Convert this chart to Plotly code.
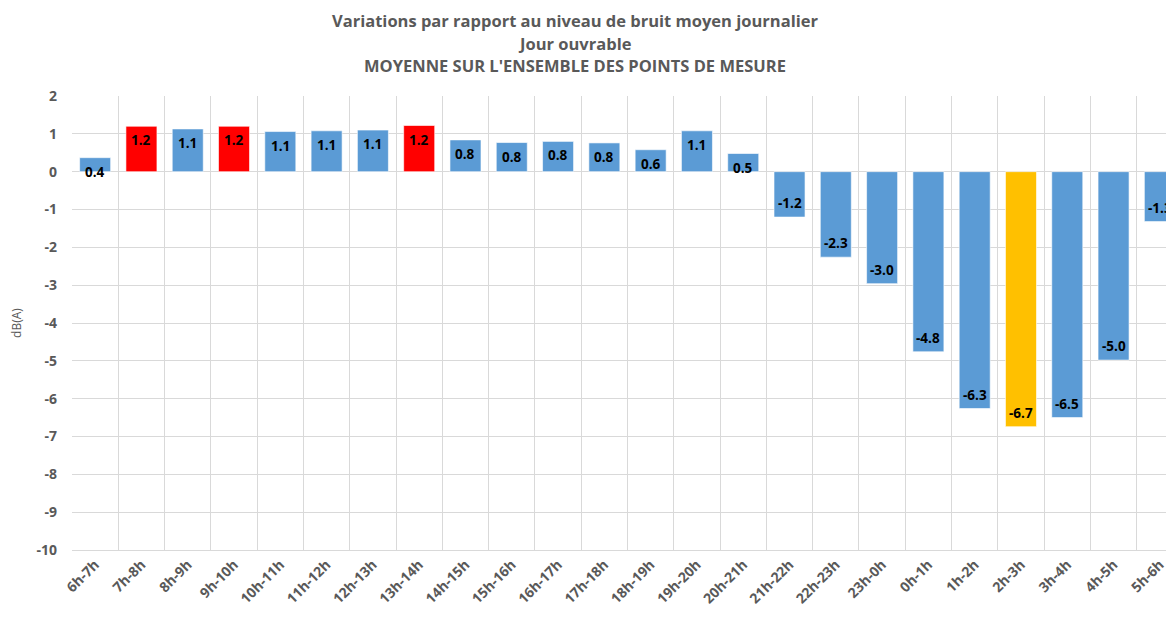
import plotly.graph_objects as go

categories = ["6h-7h", "7h-8h", "8h-9h", "9h-10h", "10h-11h", "11h-12h", "12h-13h", "13h-14h",
              "14h-15h", "15h-16h", "16h-17h", "17h-18h", "18h-19h", "19h-20h", "20h-21h",
              "21h-22h", "22h-23h", "23h-0h", "0h-1h", "1h-2h", "2h-3h", "3h-4h", "4h-5h", "5h-6h"]
values = [0.37, 1.2, 1.13, 1.2, 1.06, 1.08, 1.1, 1.22, 0.84, 0.77, 0.8, 0.76, 0.58, 1.08, 0.48,
          -1.2, -2.26, -2.96, -4.76, -6.26, -6.74, -6.5, -4.98, -1.32]
labels = ["0.4", "1.2", "1.1", "1.2", "1.1", "1.1", "1.1", "1.2", "0.8", "0.8", "0.8", "0.8", "0.6",
          "1.1", "0.5", "-1.2", "-2.3", "-3.0", "-4.8", "-6.3", "-6.7", "-6.5", "-5.0", "-1.3"]
colors = ["#5B9BD5", "#FF0000", "#5B9BD5", "#FF0000", "#5B9BD5", "#5B9BD5", "#5B9BD5", "#FF0000",
          "#5B9BD5", "#5B9BD5", "#5B9BD5", "#5B9BD5", "#5B9BD5", "#5B9BD5", "#5B9BD5",
          "#5B9BD5", "#5B9BD5", "#5B9BD5", "#5B9BD5", "#5B9BD5", "#FFC000", "#5B9BD5", "#5B9BD5", "#5B9BD5"]
y_ticks = list(range(2, -11, -1))
y_ticktext = [str(v) for v in y_ticks]
title_lines = ["Variations par rapport au niveau de bruit moyen journalier",
               "Jour ouvrable",
               "MOYENNE SUR L'ENSEMBLE DES POINTS DE MESURE"]

FONT = "Century Gothic, Open Sans, DejaVu Sans, sans-serif"
OFF = 8  # page body margin
W, H = 1183 - OFF, 617 - 2 * OFF
L, R, T = 72 - OFF, 0, 96 - OFF
B = H - (550 - OFF)
plot_h = H - T - B
plot_w = W - L - R

fig = go.Figure()
fig.add_trace(go.Bar(
    x=categories, y=values,
    marker=dict(color=colors, line=dict(color="rgba(255,255,255,0.6)", width=1)),
    width=0.67, hoverinfo="x+y",
))

for c, v, t in zip(categories, values, labels):
    fig.add_annotation(x=c, y=v, text="<b>" + t + "</b>", showarrow=False,
                       yshift=-14 if v >= 0 else 14,
                       font=dict(family=FONT, size=13.5, color="#000000"))

for i, (line, ypx) in enumerate(zip(title_lines, [20, 43, 66])):
    fig.add_annotation(x=(575 - OFF - L) / plot_w, y=1 + (T - (ypx - OFF)) / plot_h,
                       xref="paper", yref="paper",
                       text="<b>" + line + "</b>", showarrow=False, xanchor="center", yanchor="middle",
                       font=dict(family=FONT, size=16.5, color="#595959"))

fig.update_layout(
    width=W, height=H,
    margin=dict(l=L, r=R, t=T, b=B),
    paper_bgcolor="white", plot_bgcolor="white",
    showlegend=False,
    xaxis=dict(
        type="category", tickson="boundaries", showgrid=True, gridcolor="#D9D9D9", gridwidth=1,
        ticks="", tickangle=-45, showline=True, linecolor="#D9D9D9", automargin=False,
        tickfont=dict(family=FONT, size=14, color="#595959", weight="bold"),
        range=[-0.5, 23.5],
    ),
    yaxis=dict(
        range=[-10, 2], tickvals=y_ticks, ticktext=y_ticktext, showgrid=True, gridcolor="#D9D9D9",
        gridwidth=1, zeroline=True, zerolinecolor="#D9D9D9", zerolinewidth=1, automargin=False,
        tickfont=dict(family=FONT, size=14, color="#595959", weight="bold"),
        title=dict(text="dB(A)", font=dict(family=FONT, size=12, color="#595959"), standoff=14),
        ticks="", ticklabelstandoff=14,
    ),
)

fig.write_html("out.html")
